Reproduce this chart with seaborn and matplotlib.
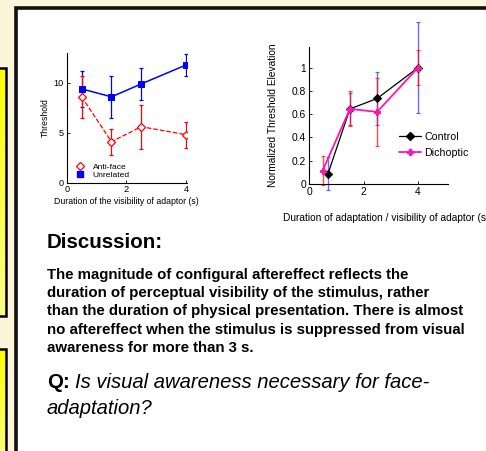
import matplotlib
matplotlib.use("Agg")
import matplotlib.pyplot as plt
import numpy as np
import pandas as pd
import seaborn as sns
from matplotlib.colors import LinearSegmentedColormap
from matplotlib.lines import Line2D
from matplotlib.patches import Rectangle

# left plot: threshold vs. visible duration of adaptor
vis_dur = [0.5, 1.5, 2.5, 4.0]
antiface = [8.6, 4.1, 5.6, 4.8]
antiface_err = [2.1, 1.3, 2.2, 1.3]
unrelated = [9.4, 8.6, 9.9, 11.8]
unrelated_err = [1.8, 2.1, 1.6, 1.1]

# right plot: normalized threshold elevation
control_x = [0.7, 1.5, 2.5, 4.0]
control = [0.09, 0.645, 0.735, 1.0]
control_err = [0.145, 0.14, 0.23, 0.39]
dichoptic_x = [0.5, 1.5, 2.5, 4.0]
dichoptic = [0.115, 0.645, 0.62, 1.0]
dichoptic_err = [0.125, 0.15, 0.29, 0.15]

body_lines = [
    "The magnitude of configural aftereffect reflects the",
    "duration of perceptual visibility of the stimulus, rather",
    "than the duration of physical presentation. There is almost",
    "no aftereffect when the stimulus is suppressed from visual",
    "awareness for more than 3 s.",
]

sns.set_theme(style="ticks")
plt.rcParams["font.family"] = ["Liberation Sans", "DejaVu Sans"]
plt.rcParams["text.color"] = "black"
plt.rcParams["axes.labelcolor"] = "black"

W, H = 486, 451
CREAM = "#fdf5da"
MAGENTA = "#ff14b4"

fig = plt.figure(figsize=(W / 100, H / 100), dpi=100)
fig.patch.set_facecolor(CREAM)


def px_axes(x0, y0, x1, y1):
    # axes from pixel box (top-left origin)
    return fig.add_axes([x0 / W, 1 - y1 / H, (x1 - x0) / W, (y1 - y0) / H])


# poster background
bg = fig.add_axes([0, 0, 1, 1])
bg.axis("off")
yellow = LinearSegmentedColormap.from_list("yel", ["#ffff00", "#fbfb8a"])
for top, bottom in [(68, 316), (349, 470)]:
    grad = np.linspace(0, 1, 64).reshape(-1, 1)
    bg.imshow(grad, cmap=yellow, extent=(-10, 5.5, bottom, top), aspect="auto", zorder=1)
    bg.add_patch(Rectangle((-10, top), 15.5, bottom - top, fill=False, ec="black", lw=1.8, zorder=2))
bg.add_patch(Rectangle((16, 7.5), 480, 460, fc="white", ec="#111111", lw=2.6, zorder=1))
bg.set_xlim(0, W)
bg.set_ylim(H, 0)


def style_axes(ax, size):
    sns.despine(ax=ax)
    for side in ("left", "bottom"):
        ax.spines[side].set_linewidth(0.8)
        ax.spines[side].set_color("black")
    ax.tick_params(direction="in", length=2.5, width=0.6, labelsize=size, pad=2, colors="black")
    ax.set_facecolor("white")


# left plot
ax1 = px_axes(66.7, 53, 186.7, 182.5)
ax1.errorbar(vis_dur, unrelated, yerr=unrelated_err, fmt="none", ecolor="blue",
             elinewidth=0.9, capsize=1.5, capthick=0.9, zorder=2)
ax1.errorbar(vis_dur, antiface, yerr=antiface_err, fmt="none", ecolor="red",
             elinewidth=0.9, capsize=1.5, capthick=0.9, zorder=2)
sns.lineplot(x=vis_dur, y=unrelated, ax=ax1, color="blue", marker="s", markersize=4.5,
             markeredgecolor="blue", linewidth=1.1, zorder=3)
sns.lineplot(x=vis_dur, y=antiface, ax=ax1, color="red", marker="D", markersize=3.8,
             markerfacecolor="white", markeredgecolor="red", markeredgewidth=0.9,
             linestyle="--", linewidth=0.9, zorder=3)
ax1.set_xlim(0, 4.02)
ax1.set_ylim(0, 13)
ax1.set_xticks([0, 2, 4])
ax1.set_yticks([0, 5, 10])
style_axes(ax1, 6.6)
ax1.set_ylabel("Threshold", fontsize=6.2, labelpad=3)
ax1.set_xlabel("Duration of the visibility of adaptor (s)", fontsize=6.3, labelpad=2)
left_handles = [
    Line2D([], [], ls="none", marker="D", ms=3.8, mfc="white", mec="red", mew=0.9),
    Line2D([], [], ls="none", marker="s", ms=4, mfc="blue", mec="blue"),
]
ax1.legend(left_handles, ["Anti-face", "Unrelated"], loc="lower left", bbox_to_anchor=(0.04, 0.0),
           frameon=False, fontsize=6.1, handlelength=1.2, handletextpad=0.9, labelspacing=0.05,
           borderaxespad=0)

# right plot
ax2 = px_axes(309, 46.7, 448, 184)
ax2.errorbar(control_x, control, yerr=control_err, fmt="none", ecolor="#3838ff", alpha=0.75,
             elinewidth=1.0, capsize=1.5, capthick=0.9, zorder=2, clip_on=False)
ax2.errorbar(dichoptic_x, dichoptic, yerr=dichoptic_err, fmt="none", ecolor="#ff1010", alpha=0.75,
             elinewidth=1.0, capsize=1.5, capthick=0.9, zorder=2, clip_on=False)
sns.lineplot(x=control_x, y=control, ax=ax2, color="black", marker="D", markersize=4,
             markeredgecolor="black", linewidth=0.9, zorder=3)
sns.lineplot(x=dichoptic_x, y=dichoptic, ax=ax2, color=MAGENTA, marker="P", markersize=4.5,
             markeredgecolor=MAGENTA, linewidth=1.3, zorder=4)
ax2.set_xlim(0, 5.1)
ax2.set_ylim(0, 1.18)
ax2.set_xticks([0, 2, 4])
ax2.set_yticks([0, 0.2, 0.4, 0.6, 0.8, 1])
ax2.set_yticklabels(["0", "0.2", "0.4", "0.6", "0.8", "1"])
style_axes(ax2, 7.4)
ax2.set_ylabel("Normalized Threshold Elevation", fontsize=7.3, labelpad=10)
right_handles = [
    Line2D([], [], color="black", marker="D", ms=4, lw=0.9),
    Line2D([], [], color=MAGENTA, marker="P", ms=4.5, lw=1.3),
]
ax2.legend(right_handles, ["Control", "Dichoptic"], loc="upper left", bbox_to_anchor=(0.62, 0.41),
           frameon=False, fontsize=7.7, handlelength=2.0, handletextpad=0.3, labelspacing=0.55,
           borderaxespad=0)
# the poster crop cuts this label at the right edge, as in the reference
fig.text(283 / W, 1 - 218 / H, "Duration of adaptation / visibility of adaptor (s)",
         fontsize=7.3, va="center", ha="left")

# discussion text
fig.text(47 / W, 1 - 243 / H, "Discussion:", fontsize=14.8, fontweight="bold", va="center")
for i, line in enumerate(body_lines):
    fig.text(47 / W, 1 - (275 + 18.2 * i) / H, line, fontsize=10.8, fontweight="bold", va="center")
fig.text(47 / W, 1 - 383 / H, "Q:", fontsize=14.8, fontweight="bold", va="center")
fig.text(75 / W, 1 - 383 / H, "Is visual awareness necessary for face-", fontsize=14.6,
         style="italic", va="center")
fig.text(47 / W, 1 - 408 / H, "adaptation?", fontsize=14.6, style="italic", va="center")

fig.savefig("out.png", dpi=100, facecolor=fig.get_facecolor())
